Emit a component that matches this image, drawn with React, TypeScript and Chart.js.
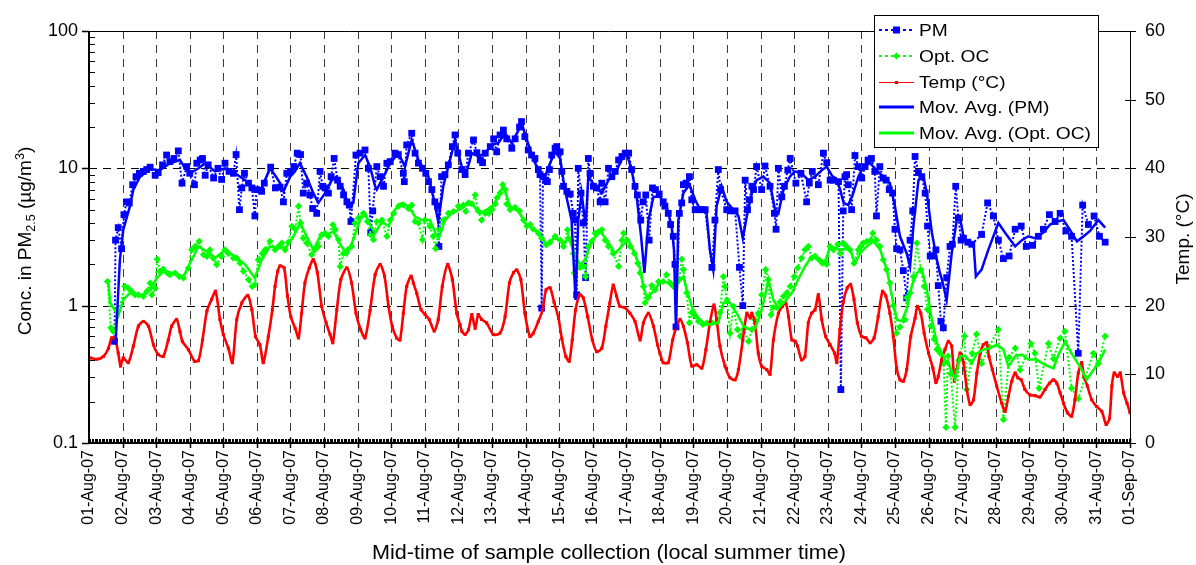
import React, { useEffect, useRef } from 'react';
import { Chart, registerables } from 'chart.js';

Chart.register(...registerables);

const FONT = '"Liberation Sans", Arial, Helvetica, sans-serif';

// ---------- tick labels ----------
const xTickLabels = [
  '01-Aug-07', '02-Aug-07', '03-Aug-07', '04-Aug-07', '05-Aug-07', '06-Aug-07', '07-Aug-07', '08-Aug-07',
  '09-Aug-07', '10-Aug-07', '11-Aug-07', '12-Aug-07', '13-Aug-07', '14-Aug-07', '15-Aug-07', '16-Aug-07',
  '17-Aug-07', '18-Aug-07', '19-Aug-07', '20-Aug-07', '21-Aug-07', '22-Aug-07', '23-Aug-07', '24-Aug-07',
  '25-Aug-07', '26-Aug-07', '27-Aug-07', '28-Aug-07', '29-Aug-07', '30-Aug-07', '31-Aug-07', '01-Sep-07',
];
const leftTickValues = [0.1, 1, 10, 100];
const leftTickLabels = ['0.1', '1', '10', '100'];
const rightTickValues = [0, 10, 20, 30, 40, 50, 60];

const legendLabels = ['PM', 'Opt. OC', 'Temp (°C)', 'Mov. Avg. (PM)', 'Mov. Avg. (Opt. OC)'];
const xTitle = 'Mid-time of sample collection (local summer time)';
const rightTitle = 'Temp. (°C)';

// ---------- data: [day since 01-Aug-07 00:00, value] ----------
const pmPoints: [number, number][] = [
  [0.76, 0.55], [0.79, 3.0], [0.87, 3.7], [0.97, 2.6], [1.04, 4.6], [1.12, 5.7], [1.2, 5.6], [1.3, 7.6], [1.4, 8.7], [1.5, 9.2],
  [1.62, 9.5], [1.72, 9.8], [1.82, 10.2], [1.97, 8.9], [2.06, 9.3], [2.19, 10.6], [2.31, 12.5], [2.41, 11.2], [2.53, 11.8], [2.66, 13.4],
  [2.77, 7.8], [2.91, 10.3], [3.0, 9.2], [3.14, 7.6], [3.21, 10.9], [3.31, 11.5], [3.38, 11.8], [3.46, 8.9], [3.55, 10.6], [3.71, 8.5],
  [3.84, 10.0], [3.95, 8.3], [4.05, 10.9], [4.17, 9.5], [4.3, 9.2], [4.38, 12.6], [4.48, 5.0], [4.55, 7.2], [4.63, 9.2], [4.75, 7.8],
  [4.85, 7.2], [4.94, 4.5], [4.99, 7.0], [5.14, 6.8], [5.22, 7.8], [5.41, 10.2], [5.55, 7.2], [5.69, 7.3], [5.79, 5.7], [5.89, 9.2],
  [6.0, 9.5], [6.1, 10.3], [6.2, 12.9], [6.3, 12.6], [6.38, 6.6], [6.48, 7.8], [6.58, 6.4], [6.66, 5.1], [6.78, 4.7], [6.88, 9.5],
  [6.96, 7.4], [7.03, 7.2], [7.13, 6.6], [7.21, 8.7], [7.3, 11.8], [7.4, 8.2], [7.48, 7.4], [7.58, 6.4], [7.68, 5.7], [7.75, 5.4],
  [7.8, 4.1], [7.95, 12.5], [8.07, 12.9], [8.22, 13.6], [8.32, 10.0], [8.39, 3.4], [8.45, 4.9], [8.57, 10.3], [8.67, 8.7], [8.77, 7.4],
  [8.87, 10.9], [8.97, 11.2], [9.11, 12.9], [9.21, 12.6], [9.36, 9.2], [9.39, 8.0], [9.46, 14.8], [9.61, 18.0], [9.71, 12.9], [9.81, 10.9],
  [9.93, 10.0], [10.03, 9.2], [10.11, 8.0], [10.21, 7.0], [10.3, 5.7], [10.38, 5.3], [10.42, 2.7], [10.5, 8.7], [10.6, 9.0], [10.7, 10.6],
  [10.82, 14.4], [10.9, 17.5], [10.98, 12.9], [11.1, 9.8], [11.2, 9.0], [11.3, 12.9], [11.45, 16.1], [11.55, 13.0], [11.65, 11.5], [11.72, 11.0],
  [11.8, 12.9], [11.95, 14.4], [12.05, 16.4], [12.14, 13.2], [12.24, 17.5], [12.34, 19.0], [12.44, 16.4], [12.59, 14.0], [12.69, 16.4], [12.82, 20.0],
  [12.88, 21.9], [12.98, 17.0], [13.08, 13.6], [13.18, 12.5], [13.28, 11.8], [13.38, 9.8], [13.43, 9.0], [13.48, 0.96], [13.52, 8.7], [13.6, 8.2],
  [13.65, 8.0], [13.71, 9.8], [13.78, 12.5], [13.88, 14.0], [13.93, 14.4], [14.03, 13.2], [14.08, 9.5], [14.13, 7.4], [14.23, 6.8], [14.33, 6.5],
  [14.42, 4.7], [14.47, 4.2], [14.52, 1.2], [14.57, 10.0], [14.65, 6.6], [14.72, 4.0], [14.79, 1.6], [14.87, 11.8], [14.92, 9.2], [15.02, 7.4],
  [15.12, 7.2], [15.22, 5.7], [15.27, 7.8], [15.37, 5.7], [15.47, 10.0], [15.57, 8.7], [15.67, 9.5], [15.77, 11.5], [15.87, 12.2], [15.97, 12.9],
  [16.07, 12.9], [16.16, 9.8], [16.26, 7.4], [16.33, 6.4], [16.43, 4.2], [16.5, 5.7], [16.58, 6.4], [16.68, 3.0], [16.78, 7.2], [16.87, 7.0],
  [16.98, 6.5], [17.1, 5.7], [17.15, 5.3], [17.25, 4.7], [17.32, 3.9], [17.4, 3.2], [17.45, 2.0], [17.48, 0.7], [17.58, 4.7], [17.65, 5.6],
  [17.7, 7.6], [17.78, 7.8], [17.88, 8.7], [17.95, 5.9], [18.05, 5.0], [18.15, 5.0], [18.25, 5.0], [18.35, 5.0], [18.55, 1.9], [18.64, 4.2],
  [18.74, 9.8], [18.81, 7.0], [18.99, 5.0], [19.09, 4.9], [19.24, 4.9], [19.37, 1.9], [19.47, 1.0], [19.54, 8.2], [19.61, 5.0], [19.67, 5.9],
  [19.74, 7.4], [19.79, 7.0], [19.88, 10.3], [20.03, 7.0], [20.13, 10.4], [20.28, 7.4], [20.41, 4.7], [20.46, 3.6], [20.53, 10.0], [20.63, 6.2],
  [20.71, 7.4], [20.81, 9.7], [20.88, 11.8], [21.05, 7.8], [21.2, 9.2], [21.37, 5.7], [21.45, 7.8], [21.54, 9.5], [21.72, 7.6], [21.87, 12.9],
  [21.97, 11.0], [22.07, 8.2], [22.17, 8.2], [22.32, 8.0], [22.39, 0.245], [22.46, 4.9], [22.51, 8.7], [22.56, 9.0], [22.61, 7.6], [22.71, 5.0],
  [22.81, 12.4], [22.91, 10.3], [23.01, 8.5], [23.11, 10.3], [23.2, 11.5], [23.3, 11.8], [23.4, 9.5], [23.45, 4.5], [23.55, 10.3], [23.65, 8.5],
  [23.74, 8.2], [23.83, 7.0], [23.93, 6.6], [24.0, 3.6], [24.05, 2.6], [24.15, 2.55], [24.25, 1.8], [24.35, 1.14], [24.45, 3.0], [24.53, 4.9],
  [24.6, 12.2], [24.7, 9.3], [24.8, 8.7], [24.9, 6.6], [24.97, 3.8], [25.05, 2.3], [25.15, 2.3], [25.22, 2.55], [25.29, 1.4], [25.37, 0.77],
  [25.44, 0.69], [25.54, 1.6], [25.64, 2.7], [25.71, 2.8], [25.81, 7.4], [25.89, 4.35], [25.97, 3.0], [26.04, 3.1], [26.17, 2.9], [26.29, 2.8],
  [26.58, 3.3], [26.76, 5.6], [26.93, 4.5], [27.08, 3.0], [27.23, 2.2], [27.4, 2.3], [27.58, 3.6], [27.76, 3.8], [27.91, 2.7], [28.1, 2.75],
  [28.27, 3.2], [28.42, 3.6], [28.6, 4.6], [28.77, 4.1], [28.92, 4.7], [29.09, 3.5], [29.26, 3.2], [29.46, 0.45], [29.59, 5.4], [29.76, 3.9],
  [29.93, 4.5], [30.09, 3.2], [30.26, 2.9],
];

const ocPoints: [number, number][] = [
  [0.55, 1.5], [0.65, 0.69], [0.72, 0.65], [1.07, 1.38], [1.17, 1.34], [1.27, 1.27], [1.37, 1.2], [1.47, 1.2], [1.62, 1.17], [1.72, 1.27],
  [1.82, 1.46], [1.87, 1.2], [1.97, 1.34], [2.03, 2.18], [2.11, 1.78], [2.21, 1.85], [2.33, 1.73], [2.41, 1.68], [2.56, 1.73], [2.69, 1.63],
  [2.81, 1.59], [2.96, 1.88], [3.06, 2.55], [3.16, 2.7], [3.28, 2.94], [3.41, 2.35], [3.51, 2.28], [3.6, 2.55], [3.7, 2.22], [3.8, 1.99],
  [3.95, 2.28], [4.05, 2.55], [4.15, 2.4], [4.3, 2.22], [4.4, 2.22], [4.5, 2.04], [4.6, 1.78], [4.75, 1.55], [4.86, 1.38], [4.94, 1.42],
  [5.04, 2.16], [5.16, 2.4], [5.24, 2.55], [5.39, 2.94], [5.54, 2.55], [5.64, 2.7], [5.74, 2.86], [5.84, 2.55], [5.94, 2.9], [6.04, 3.78],
  [6.14, 3.6], [6.24, 5.3], [6.3, 4.0], [6.38, 3.1], [6.48, 2.86], [6.63, 2.35], [6.73, 2.55], [6.83, 2.7], [6.93, 3.28], [7.03, 3.37],
  [7.13, 3.2], [7.26, 3.88], [7.33, 3.6], [7.43, 3.02], [7.48, 1.93], [7.58, 2.4], [7.7, 2.55], [7.82, 2.7], [7.92, 4.0], [8.02, 4.35],
  [8.17, 4.7], [8.29, 4.1], [8.39, 3.28], [8.47, 3.02], [8.57, 4.1], [8.72, 4.2], [8.87, 3.2], [8.97, 4.2], [9.07, 4.7], [9.22, 5.3],
  [9.37, 5.4], [9.51, 5.1], [9.61, 5.4], [9.71, 4.1], [9.81, 4.0], [9.93, 3.02], [10.0, 4.2], [10.15, 3.78], [10.25, 3.2], [10.32, 2.6],
  [10.42, 3.6], [10.55, 4.2], [10.7, 4.7], [10.85, 4.85], [11.0, 5.3], [11.15, 5.4], [11.22, 4.85], [11.3, 5.6], [11.4, 5.5], [11.5, 6.4],
  [11.59, 4.9], [11.69, 4.2], [11.8, 4.7], [11.9, 4.7], [12.0, 5.0], [12.1, 5.5], [12.15, 6.1], [12.24, 6.6], [12.32, 7.6], [12.39, 7.0],
  [12.44, 5.5], [12.54, 5.0], [12.69, 5.2], [12.82, 4.9], [12.94, 4.2], [13.04, 3.8], [13.14, 3.9], [13.23, 3.6], [13.38, 3.37], [13.48, 3.1],
  [13.61, 2.78], [13.73, 2.9], [13.88, 3.2], [14.03, 3.0], [14.13, 2.7], [14.25, 3.57], [14.35, 3.0], [14.42, 2.4], [14.45, 1.73], [14.52, 1.93],
  [14.62, 1.9], [14.72, 1.93], [14.79, 1.63], [14.87, 2.7], [14.97, 2.94], [15.07, 3.37], [15.17, 3.45], [15.27, 3.57], [15.37, 3.0], [15.47, 2.7],
  [15.61, 2.4], [15.77, 1.93], [15.87, 3.0], [15.92, 3.37], [16.02, 3.0], [16.12, 2.7], [16.24, 2.4], [16.34, 2.04], [16.41, 1.73], [16.51, 1.38],
  [16.56, 1.05], [16.66, 1.15], [16.76, 1.4], [16.86, 1.3], [16.96, 1.5], [17.1, 1.5], [17.2, 1.68], [17.3, 1.46], [17.4, 1.38], [17.5, 1.46],
  [17.58, 1.55], [17.65, 2.18], [17.7, 1.83], [17.8, 1.24], [17.88, 0.75], [17.95, 0.89], [18.05, 0.84], [18.15, 0.77], [18.28, 0.73], [18.4, 0.75],
  [18.55, 0.75], [18.69, 0.75], [18.79, 0.89], [18.89, 1.63], [18.94, 1.38], [19.0, 1.1], [19.09, 0.63], [19.19, 0.99], [19.31, 0.67], [19.39, 0.6],
  [19.49, 0.67], [19.64, 0.55], [19.74, 0.67], [19.83, 0.79], [19.93, 0.88], [20.03, 1.2], [20.15, 1.83], [20.23, 1.55], [20.31, 0.86], [20.38, 0.97],
  [20.48, 0.97], [20.58, 1.07], [20.68, 1.17], [20.78, 1.24], [20.88, 1.38], [21.0, 1.63], [21.1, 1.88], [21.22, 2.22], [21.32, 2.55], [21.42, 2.7],
  [21.52, 2.22], [21.62, 2.3], [21.74, 2.16], [21.84, 2.04], [21.97, 2.0], [22.07, 2.7], [22.17, 2.55], [22.3, 2.8], [22.37, 2.4], [22.46, 2.86],
  [22.56, 2.7], [22.66, 2.55], [22.78, 2.04], [22.91, 2.55], [22.98, 2.7], [23.06, 2.86], [23.16, 2.94], [23.28, 3.0], [23.34, 3.37], [23.45, 3.0],
  [23.55, 2.7], [23.65, 2.16], [23.75, 1.83], [23.85, 1.46], [23.95, 1.0], [24.05, 0.63], [24.15, 0.7], [24.3, 0.79], [24.35, 1.14], [24.45, 1.24],
  [24.55, 1.63], [24.65, 2.86], [24.77, 1.83], [24.87, 1.38], [24.97, 0.94], [25.07, 0.71], [25.17, 0.57], [25.25, 0.48], [25.35, 0.45], [25.45, 0.38],
  [25.52, 0.13], [25.58, 0.43], [25.66, 0.32], [25.79, 0.13], [25.9, 0.4], [26.07, 0.6], [26.14, 0.245], [26.3, 0.45], [26.43, 0.62], [26.58, 0.38],
  [26.8, 0.5], [27.08, 0.67], [27.23, 0.148], [27.4, 0.42], [27.58, 0.49], [27.73, 0.34], [28.05, 0.53], [28.17, 0.45], [28.29, 0.25], [28.57, 0.53],
  [28.72, 0.41], [28.92, 0.58], [29.06, 0.65], [29.26, 0.25], [29.46, 0.21], [29.66, 0.3], [29.91, 0.45], [30.06, 0.38], [30.26, 0.6],
];

const tempPoints: [number, number][] = [
  [0.03, 12.4], [0.23, 12.2], [0.43, 12.6], [0.58, 13.8], [0.67, 15.3], [0.77, 15.3], [0.87, 13.1], [0.94, 11.2], [1.02, 12.4], [1.17, 11.7],
  [1.32, 14.1], [1.47, 17.0], [1.62, 17.7], [1.77, 17.0], [1.92, 14.3], [2.06, 12.9], [2.21, 12.6], [2.36, 15.0], [2.46, 17.0], [2.61, 18.0],
  [2.71, 16.2], [2.78, 14.8], [2.96, 13.6], [3.14, 11.9], [3.26, 12.0], [3.38, 15.0], [3.51, 19.2], [3.65, 20.9], [3.77, 22.1], [3.9, 18.0],
  [4.0, 15.8], [4.15, 13.8], [4.27, 11.7], [4.4, 18.0], [4.55, 20.4], [4.73, 21.5], [4.85, 19.4], [4.96, 15.5], [5.09, 14.3], [5.19, 11.7],
  [5.34, 15.5], [5.46, 19.4], [5.54, 22.8], [5.62, 25.0], [5.69, 25.8], [5.81, 25.5], [5.91, 21.4], [6.01, 18.4], [6.14, 16.7], [6.24, 15.3],
  [6.33, 18.9], [6.43, 23.3], [6.56, 25.5], [6.68, 26.7], [6.8, 24.8], [6.93, 19.9], [7.06, 17.5], [7.18, 15.8], [7.26, 14.6], [7.38, 19.4],
  [7.5, 23.8], [7.68, 25.5], [7.82, 23.3], [7.95, 18.9], [8.09, 16.5], [8.22, 15.3], [8.37, 19.3], [8.52, 24.5], [8.67, 26.0], [8.8, 24.3],
  [8.92, 19.9], [9.03, 17.0], [9.16, 15.3], [9.26, 15.0], [9.36, 18.9], [9.46, 22.8], [9.59, 24.3], [9.66, 23.3], [9.76, 21.8], [9.89, 19.4],
  [10.01, 18.7], [10.13, 18.0], [10.28, 16.3], [10.4, 18.0], [10.52, 22.8], [10.68, 26.0], [10.82, 23.8], [10.95, 18.9], [11.05, 17.2], [11.1, 16.3],
  [11.2, 15.8], [11.3, 16.5], [11.4, 18.7], [11.5, 16.7], [11.59, 18.7], [11.69, 18.0], [11.84, 17.5], [12.04, 15.8], [12.24, 16.0], [12.39, 18.4],
  [12.52, 23.3], [12.64, 24.8], [12.74, 25.2], [12.86, 23.8], [12.98, 18.9], [13.13, 15.5], [13.23, 16.0], [13.38, 17.7], [13.51, 19.4], [13.61, 22.3],
  [13.73, 22.6], [13.85, 20.5], [13.98, 18.2], [14.08, 15.2], [14.2, 12.6], [14.3, 11.9], [14.39, 15.0], [14.49, 19.4], [14.62, 21.6], [14.72, 21.1],
  [14.85, 18.4], [14.99, 15.0], [15.12, 13.3], [15.27, 13.8], [15.39, 17.0], [15.51, 20.4], [15.61, 23.0], [15.71, 21.4], [15.81, 19.9], [15.96, 19.7],
  [16.11, 18.9], [16.26, 17.7], [16.41, 15.0], [16.51, 17.5], [16.66, 18.9], [16.81, 17.0], [16.93, 14.3], [17.0, 13.1], [17.1, 11.7], [17.25, 11.7],
  [17.38, 15.0], [17.5, 17.0], [17.6, 18.0], [17.7, 17.0], [17.82, 14.6], [17.95, 11.2], [18.1, 11.4], [18.25, 10.9], [18.37, 13.6], [18.49, 17.5],
  [18.61, 20.1], [18.69, 18.0], [18.79, 14.1], [18.94, 11.2], [19.09, 9.5], [19.24, 9.2], [19.34, 10.7], [19.47, 15.0], [19.59, 18.9], [19.69, 18.2],
  [19.74, 18.9], [19.83, 17.5], [19.93, 13.1], [20.03, 11.2], [20.18, 10.7], [20.28, 10.0], [20.38, 15.0], [20.53, 18.9], [20.65, 19.9], [20.75, 20.4],
  [20.83, 18.4], [20.93, 15.0], [21.03, 14.8], [21.1, 14.1], [21.22, 12.1], [21.32, 12.6], [21.42, 17.5], [21.52, 18.9], [21.62, 19.4], [21.72, 21.6],
  [21.82, 18.0], [21.94, 15.5], [22.07, 14.3], [22.2, 13.1], [22.27, 11.7], [22.36, 16.5], [22.46, 20.5], [22.58, 22.6], [22.68, 23.1], [22.78, 20.9],
  [22.88, 17.5], [23.01, 15.5], [23.14, 15.3], [23.26, 14.6], [23.38, 15.3], [23.5, 18.4], [23.63, 22.1], [23.73, 21.4], [23.85, 18.9], [23.95, 15.5],
  [24.05, 10.9], [24.15, 9.2], [24.25, 9.0], [24.35, 10.7], [24.47, 15.5], [24.6, 18.2], [24.67, 19.9], [24.77, 18.9], [24.87, 16.0], [25.0, 13.1],
  [25.13, 10.9], [25.22, 8.8], [25.29, 9.7], [25.39, 12.1], [25.49, 13.6], [25.59, 14.8], [25.69, 14.1], [25.77, 9.0], [25.84, 10.7], [25.94, 13.1],
  [26.04, 11.7], [26.14, 7.8], [26.24, 5.6], [26.34, 6.3], [26.44, 10.2], [26.54, 13.1], [26.63, 14.3], [26.73, 14.6], [26.8, 12.6], [26.9, 10.7],
  [27.03, 8.3], [27.18, 5.8], [27.28, 4.6], [27.38, 6.8], [27.48, 9.0], [27.58, 10.2], [27.66, 9.5], [27.76, 9.2], [27.87, 7.8], [28.02, 7.0],
  [28.17, 6.9], [28.32, 6.7], [28.47, 7.8], [28.6, 8.7], [28.72, 9.2], [28.82, 8.7], [28.92, 7.3], [29.02, 5.8], [29.14, 4.4], [29.26, 3.9],
  [29.36, 6.3], [29.46, 10.2], [29.56, 11.7], [29.63, 9.7], [29.73, 8.3], [29.86, 6.3], [30.01, 5.3], [30.16, 4.6], [30.29, 2.7], [30.39, 3.6],
  [30.46, 8.3], [30.53, 10.2], [30.63, 9.7], [30.71, 10.2], [30.81, 7.3], [30.91, 5.8], [31.0, 4.4],
];

const pmAvgPoints: [number, number][] = [
  [0.79, 0.52], [0.92, 2.16], [1.02, 3.57], [1.22, 5.3], [1.32, 7.0], [1.52, 8.7], [1.82, 9.9], [2.11, 9.7], [2.41, 10.9], [2.71, 11.5],
  [2.86, 10.0], [3.01, 9.2], [3.26, 10.0], [3.46, 10.9], [3.75, 9.5], [4.05, 10.0], [4.35, 9.2], [4.65, 8.2], [4.94, 7.0], [5.14, 7.2],
  [5.39, 10.0], [5.54, 8.9], [5.69, 7.8], [5.79, 6.8], [5.99, 8.7], [6.13, 9.5], [6.28, 10.9], [6.48, 8.7], [6.68, 6.6], [6.83, 5.6],
  [7.03, 6.6], [7.23, 8.2], [7.38, 8.7], [7.58, 7.0], [7.72, 5.3], [7.87, 5.6], [8.02, 10.9], [8.22, 12.5], [8.37, 10.3], [8.52, 7.4],
  [8.57, 7.0], [8.77, 8.7], [8.97, 10.9], [9.21, 12.9], [9.41, 10.3], [9.61, 16.1], [9.81, 11.5], [10.11, 8.7], [10.25, 6.2], [10.4, 4.1],
  [10.55, 7.4], [10.75, 11.5], [10.9, 16.1], [11.1, 10.3], [11.25, 9.5], [11.4, 12.9], [11.6, 12.2], [11.8, 12.9], [11.99, 14.8], [12.19, 15.3],
  [12.39, 18.0], [12.59, 15.3], [12.79, 19.0], [12.89, 21.2], [13.04, 16.1], [13.24, 11.5], [13.43, 9.2], [13.58, 8.7], [13.73, 10.9], [13.88, 13.2],
  [14.03, 11.8], [14.17, 7.0], [14.37, 4.2], [14.49, 1.1], [14.57, 4.2], [14.67, 6.6], [14.79, 3.8], [14.87, 8.7], [15.07, 7.4], [15.27, 6.6],
  [15.47, 8.2], [15.67, 9.2], [15.86, 11.5], [16.01, 12.9], [16.16, 9.7], [16.31, 6.2], [16.44, 3.2], [16.54, 1.73], [16.66, 4.2], [16.81, 6.2],
  [17.0, 6.2], [17.2, 5.3], [17.35, 3.8], [17.42, 2.55], [17.48, 0.67], [17.55, 4.2], [17.7, 6.6], [17.88, 7.6], [18.05, 5.9], [18.2, 5.0],
  [18.39, 4.7], [18.49, 2.55], [18.59, 1.83], [18.69, 5.3], [18.84, 7.4], [18.99, 5.7], [19.19, 5.0], [19.34, 4.5], [19.47, 3.1], [19.59, 4.5],
  [19.74, 6.6], [19.88, 8.2], [20.08, 8.7], [20.28, 7.8], [20.43, 5.0], [20.53, 4.7], [20.68, 7.0], [20.87, 8.7], [21.02, 9.5], [21.22, 9.2],
  [21.42, 8.2], [21.62, 8.7], [21.82, 9.7], [21.97, 10.3], [22.12, 8.9], [22.27, 8.2], [22.37, 7.0], [22.47, 5.6], [22.61, 5.4], [22.76, 6.6],
  [22.91, 8.7], [23.06, 10.3], [23.26, 10.9], [23.45, 9.7], [23.65, 8.7], [23.85, 7.8], [24.0, 5.3], [24.15, 3.2], [24.35, 2.4], [24.45, 1.93],
  [24.55, 3.8], [24.7, 8.2], [24.85, 8.7], [24.95, 6.6], [25.1, 3.4], [25.25, 2.16], [25.34, 1.73], [25.4, 1.55], [25.54, 1.1], [25.69, 2.4],
  [25.84, 4.2], [25.94, 4.35], [26.04, 3.2], [26.19, 2.8], [26.34, 2.86], [26.41, 1.63], [26.58, 1.83], [26.78, 2.55], [27.08, 4.0], [27.28, 3.4],
  [27.58, 2.7], [27.78, 3.0], [27.97, 3.2], [28.17, 3.1], [28.42, 3.4], [28.62, 3.9], [28.82, 4.1], [29.02, 4.2], [29.17, 3.7], [29.42, 2.94],
  [29.62, 3.2], [29.81, 3.5], [30.06, 4.2], [30.26, 3.7],
];

const ocAvgPoints: [number, number][] = [
  [0.58, 1.46], [0.63, 1.05], [0.87, 0.84], [1.02, 1.1], [1.22, 1.24], [1.52, 1.17], [1.82, 1.31], [2.02, 1.59], [2.21, 1.78], [2.51, 1.73],
  [2.81, 1.63], [3.06, 2.16], [3.26, 2.7], [3.51, 2.48], [3.75, 2.22], [4.05, 2.55], [4.35, 2.28], [4.65, 1.99], [4.94, 1.59], [5.14, 2.16],
  [5.39, 2.7], [5.69, 2.63], [5.89, 2.7], [6.09, 3.2], [6.29, 4.0], [6.48, 3.2], [6.68, 2.55], [6.88, 3.2], [7.08, 3.28], [7.28, 3.47],
  [7.43, 2.94], [7.68, 2.35], [7.87, 3.02], [8.07, 4.2], [8.22, 4.7], [8.37, 3.88], [8.52, 3.37], [8.72, 4.1], [8.92, 3.78], [9.11, 5.0],
  [9.31, 5.6], [9.51, 5.3], [9.71, 4.45], [9.91, 4.2], [10.15, 4.2], [10.32, 3.37], [10.42, 3.1], [10.6, 4.2], [10.8, 4.7], [11.1, 5.1],
  [11.35, 5.7], [11.64, 4.7], [11.84, 5.0], [12.04, 5.4], [12.24, 6.6], [12.34, 7.4], [12.54, 5.3], [12.79, 4.85], [13.03, 3.88], [13.28, 3.57],
  [13.53, 3.02], [13.63, 2.7], [13.83, 3.1], [14.03, 3.02], [14.18, 2.86], [14.27, 3.2], [14.47, 2.35], [14.62, 1.99], [14.77, 2.16], [14.97, 2.94],
  [15.22, 3.47], [15.42, 3.02], [15.66, 2.4], [15.86, 2.7], [16.06, 3.02], [16.26, 2.4], [16.41, 1.88], [16.51, 1.38], [16.61, 1.14], [16.76, 1.24],
  [17.0, 1.46], [17.1, 1.5], [17.3, 1.46], [17.5, 1.46], [17.7, 1.63], [17.8, 1.31], [17.95, 0.99], [18.1, 0.84], [18.3, 0.75], [18.49, 0.73],
  [18.74, 0.75], [18.89, 1.05], [19.09, 1.05], [19.29, 0.88], [19.49, 0.71], [19.69, 0.67], [19.83, 0.68], [20.0, 0.88], [20.13, 1.17], [20.23, 1.55],
  [20.38, 1.1], [20.53, 0.96], [20.73, 1.08], [20.93, 1.24], [21.12, 1.55], [21.32, 1.93], [21.52, 2.28], [21.72, 2.16], [21.92, 2.1], [22.07, 2.7],
  [22.22, 2.63], [22.42, 2.55], [22.66, 2.6], [22.81, 2.04], [22.96, 2.4], [23.16, 2.7], [23.36, 2.94], [23.56, 2.55], [23.76, 1.83], [23.91, 1.17],
  [24.06, 0.79], [24.2, 0.77], [24.35, 0.94], [24.5, 1.38], [24.65, 1.73], [24.8, 1.83], [24.95, 1.31], [25.1, 0.79], [25.25, 0.535], [25.4, 0.45],
  [25.49, 0.405], [25.64, 0.36], [25.79, 0.29], [25.94, 0.43], [26.09, 0.43], [26.29, 0.38], [26.44, 0.45], [26.64, 0.48], [26.83, 0.49], [27.03, 0.52],
  [27.23, 0.48], [27.38, 0.36], [27.58, 0.43], [27.78, 0.44], [27.97, 0.405], [28.22, 0.405], [28.47, 0.37], [28.72, 0.35], [28.87, 0.44], [29.07, 0.55],
  [29.26, 0.45], [29.51, 0.36], [29.71, 0.29], [29.91, 0.34], [30.11, 0.405], [30.26, 0.48],
];

const BLUE = '#0000ff';
const GREEN = '#00ff00';
const RED = '#ff0000';

const toXY = (pts: [number, number][]) => pts.map(([x, y]) => ({ x, y }));

function drawStretched(ctx: CanvasRenderingContext2D, text: string, x: number, y: number, size: number, sx: number, align: CanvasTextAlign) {
  ctx.save();
  ctx.font = `${size}px ${FONT}`;
  ctx.translate(x, y);
  ctx.scale(sx, 1);
  ctx.textAlign = align;
  ctx.textBaseline = 'middle';
  ctx.fillStyle = '#000';
  ctx.fillText(text, 0, 0);
  ctx.restore();
}

const decorPlugin = {
  id: 'decor',
  beforeDatasetsDraw(chart: any) {
    const { ctx, chartArea: a, scales } = chart;
    const xs = scales.x;
    const ys = scales.y;
    ctx.save();
    ctx.lineWidth = 1;
    ctx.setLineDash([8, 6]);
    ctx.strokeStyle = '#3c3c3c';
    for (let d = 1; d < xTickLabels.length - 1; d++) {
      const px = Math.round(xs.getPixelForValue(d)) + 0.5;
      ctx.beginPath();
      ctx.moveTo(px, a.top);
      ctx.lineTo(px, a.bottom);
      ctx.stroke();
    }
    ctx.strokeStyle = '#000';
    for (const v of [1, 10]) {
      const py = Math.round(ys.getPixelForValue(v)) + 0.5;
      ctx.beginPath();
      ctx.moveTo(a.left, py);
      ctx.lineTo(a.right, py);
      ctx.stroke();
    }
    ctx.restore();
  },
  afterDraw(chart: any) {
    const { ctx, chartArea: a, scales } = chart;
    const xs = scales.x;
    const ys = scales.y;
    const yr = scales.y1;
    ctx.save();
    ctx.setLineDash([]);
    ctx.strokeStyle = '#000';

    // frame
    ctx.lineWidth = 1;
    ctx.beginPath();
    ctx.moveTo(a.left, a.top + 0.5);
    ctx.lineTo(a.right, a.top + 0.5);
    ctx.moveTo(a.right + 0.5, a.top);
    ctx.lineTo(a.right + 0.5, a.bottom);
    ctx.stroke();
    ctx.lineWidth = 2;
    ctx.beginPath();
    ctx.moveTo(a.left, a.top);
    ctx.lineTo(a.left, a.bottom + 1);
    ctx.moveTo(a.left - 1, a.bottom);
    ctx.lineTo(a.right + 1, a.bottom);
    ctx.stroke();

    // x ticks (hourly minor, daily major)
    ctx.lineWidth = 1;
    ctx.beginPath();
    const days = xTickLabels.length - 1;
    for (let h = 1; h < days * 24; h++) {
      if (h % 24 === 0) continue;
      const px = Math.round(xs.getPixelForValue(h / 24)) + 0.5;
      ctx.moveTo(px, a.bottom - 4);
      ctx.lineTo(px, a.bottom);
    }
    ctx.stroke();
    ctx.lineWidth = 1.5;
    ctx.beginPath();
    for (let d = 1; d <= days; d++) {
      const px = Math.round(xs.getPixelForValue(d)) + 0.5;
      ctx.moveTo(px, a.bottom - 5);
      ctx.lineTo(px, a.bottom + 5);
    }
    ctx.stroke();

    // left log ticks
    ctx.lineWidth = 1;
    ctx.beginPath();
    for (const dec of [0.1, 1, 10]) {
      for (let m = 2; m <= 9; m++) {
        const py = Math.round(ys.getPixelForValue(dec * m)) + 0.5;
        ctx.moveTo(a.left, py);
        ctx.lineTo(a.left + 6, py);
      }
    }
    ctx.stroke();
    ctx.lineWidth = 1.5;
    ctx.beginPath();
    for (const v of leftTickValues) {
      const py = Math.round(ys.getPixelForValue(v)) + 0.5;
      ctx.moveTo(a.left - 7, py);
      ctx.lineTo(a.left, py);
    }
    ctx.stroke();

    // right ticks
    ctx.lineWidth = 1;
    ctx.beginPath();
    for (const v of rightTickValues) {
      const py = Math.round(yr.getPixelForValue(v)) + 0.5;
      ctx.moveTo(a.right - 5, py);
      ctx.lineTo(a.right + 6, py);
    }
    ctx.stroke();

    // legend box
    const lx = 874, ly = 15, lw = 224, lh = 132;
    ctx.fillStyle = '#fff';
    ctx.fillRect(lx, ly, lw, lh);
    ctx.lineWidth = 1;
    ctx.strokeRect(lx + 0.5, ly + 0.5, lw, lh);
    const rowY = [30, 56, 82, 107, 133];
    const s0 = 879, s1 = 914, sm = 896.5;
    // PM
    ctx.strokeStyle = BLUE; ctx.fillStyle = BLUE;
    ctx.lineWidth = 2; ctx.setLineDash([3, 3]);
    ctx.beginPath(); ctx.moveTo(s0, rowY[0]); ctx.lineTo(s1, rowY[0]); ctx.stroke();
    ctx.setLineDash([]);
    ctx.fillRect(sm - 3.5, rowY[0] - 3.5, 7, 7);
    // OC
    ctx.strokeStyle = GREEN; ctx.fillStyle = GREEN;
    ctx.setLineDash([3, 3]);
    ctx.beginPath(); ctx.moveTo(s0, rowY[1]); ctx.lineTo(s1, rowY[1]); ctx.stroke();
    ctx.setLineDash([]);
    ctx.beginPath();
    ctx.moveTo(sm - 3.5, rowY[1]); ctx.lineTo(sm, rowY[1] - 3.5); ctx.lineTo(sm + 3.5, rowY[1]); ctx.lineTo(sm, rowY[1] + 3.5);
    ctx.closePath(); ctx.fill();
    // Temp
    ctx.strokeStyle = RED; ctx.fillStyle = RED; ctx.lineWidth = 1;
    ctx.beginPath(); ctx.moveTo(s0, rowY[2] + 0.5); ctx.lineTo(s1, rowY[2] + 0.5); ctx.stroke();
    ctx.fillRect(sm - 1.5, rowY[2] - 1, 3, 3);
    // Mov avg lines
    ctx.lineWidth = 3;
    ctx.strokeStyle = BLUE;
    ctx.beginPath(); ctx.moveTo(s0, rowY[3]); ctx.lineTo(s1, rowY[3]); ctx.stroke();
    ctx.strokeStyle = GREEN;
    ctx.beginPath(); ctx.moveTo(s0, rowY[4]); ctx.lineTo(s1, rowY[4]); ctx.stroke();

    // legend text (stretched to match reference width)
    ctx.font = `17px ${FONT}`;
    const longest = ctx.measureText(legendLabels[4]).width;
    const lsx = 172 / longest;
    legendLabels.forEach((t, i) => drawStretched(ctx, t, 919, rowY[i] + 1, 17, lsx, 'left'));

    // x title
    ctx.font = `20px ${FONT}`;
    const xtw = ctx.measureText(xTitle).width;
    drawStretched(ctx, xTitle, 609, 553, 20, 474 / xtw, 'center');

    // left title with sub/superscript
    ctx.save();
    ctx.translate(24, 241);
    ctx.rotate(-Math.PI / 2);
    ctx.fillStyle = '#000';
    ctx.textBaseline = 'alphabetic';
    ctx.textAlign = 'left';
    const f = 19;
    const parts = [
      { t: 'Conc. in PM', s: f, dy: 0 },
      { t: '2.5', s: f * 0.66, dy: 4 },
      { t: ' (µg/m', s: f, dy: 0 },
      { t: '3', s: f * 0.66, dy: -7 },
      { t: ')', s: f, dy: 0 },
    ];
    let total = 0;
    for (const p of parts) { ctx.font = `${p.s}px ${FONT}`; total += ctx.measureText(p.t).width; }
    let cx = -total / 2;
    for (const p of parts) {
      ctx.font = `${p.s}px ${FONT}`;
      ctx.fillText(p.t, cx, 7 + p.dy);
      cx += ctx.measureText(p.t).width;
    }
    ctx.restore();

    // right title
    ctx.save();
    ctx.translate(1184, 239);
    ctx.rotate(-Math.PI / 2);
    ctx.font = `19px ${FONT}`;
    ctx.fillStyle = '#000';
    ctx.textAlign = 'center';
    ctx.textBaseline = 'middle';
    ctx.fillText(rightTitle, 0, 0);
    ctx.restore();

    ctx.restore();
  },
};

export default function App() {
  const ref = useRef<HTMLCanvasElement>(null);
  useEffect(() => {
    if (!ref.current) return;
    Chart.defaults.font.family = FONT;
    const chart = new Chart(ref.current, {
      type: 'line',
      data: {
        datasets: [
          {
            label: 'Mov. Avg. (PM)', data: toXY(pmAvgPoints), yAxisID: 'y', borderColor: BLUE, borderWidth: 2.5,
            pointRadius: 0, tension: 0, order: 0,
          },
          {
            label: 'Mov. Avg. (Opt. OC)', data: toXY(ocAvgPoints), yAxisID: 'y', borderColor: GREEN, borderWidth: 2.5,
            pointRadius: 0, tension: 0, order: 1,
          },
          {
            label: 'Temp (°C)', data: toXY(tempPoints), yAxisID: 'y1', borderColor: RED, borderWidth: 2.6,
            pointStyle: 'rect', pointRadius: 2.2, pointBackgroundColor: RED, pointBorderColor: RED, pointBorderWidth: 0,
            tension: 0.25, order: 2,
          },
          {
            label: 'Opt. OC', data: toXY(ocPoints), yAxisID: 'y', borderColor: GREEN, borderWidth: 2, borderDash: [2, 2],
            pointStyle: 'rectRot', pointRadius: 3.6, pointBackgroundColor: GREEN, pointBorderColor: GREEN, pointBorderWidth: 0,
            tension: 0, order: 3,
          },
          {
            label: 'PM', data: toXY(pmPoints), yAxisID: 'y', borderColor: BLUE, borderWidth: 2, borderDash: [2, 2],
            pointStyle: 'rect', pointRadius: 4.8, pointBackgroundColor: BLUE, pointBorderColor: BLUE, pointBorderWidth: 0,
            tension: 0, order: 4,
          },
        ],
      },
      options: {
        responsive: false,
        animation: false,
        devicePixelRatio: 1,
        layout: { padding: { top: 31, left: 0, right: 0, bottom: 0 } },
        plugins: { legend: { display: false }, tooltip: { enabled: false }, title: { display: false } },
        scales: {
          x: {
            type: 'linear', min: 0, max: xTickLabels.length - 1,
            afterBuildTicks: (s: any) => { s.ticks = xTickLabels.map((_, i) => ({ value: i })); },
            afterFit: (s: any) => { s.height = 122; },
            ticks: {
              autoSkip: false, minRotation: 90, maxRotation: 90, padding: 7, color: '#000',
              font: { family: FONT, size: 16 },
              callback: (v: any) => xTickLabels[Math.round(Number(v))] ?? '',
            },
            grid: { display: false, drawTicks: false },
            border: { display: false },
          },
          y: {
            type: 'logarithmic', position: 'left', min: 0.1, max: 100,
            afterBuildTicks: (s: any) => { s.ticks = leftTickValues.map((v) => ({ value: v })); },
            afterFit: (s: any) => { s.width = 89; },
            ticks: {
              padding: 11, color: '#000', font: { family: FONT, size: 18 },
              callback: (v: any) => {
                const i = leftTickValues.findIndex((t) => Math.abs(t - Number(v)) < 1e-9);
                return i >= 0 ? leftTickLabels[i] : '';
              },
            },
            grid: { display: false, drawTicks: false },
            border: { display: false },
          },
          y1: {
            type: 'linear', position: 'right', min: 0, max: 60,
            afterBuildTicks: (s: any) => { s.ticks = rightTickValues.map((v) => ({ value: v })); },
            afterFit: (s: any) => { s.width = 66; },
            ticks: { padding: 15, color: '#000', font: { family: FONT, size: 18 }, callback: (v: any) => String(v) },
            grid: { display: false, drawTicks: false },
            border: { display: false },
          },
        },
      },
      plugins: [decorPlugin],
    } as any);
    return () => chart.destroy();
  }, []);
  return (
    <div style={{ position: 'absolute', left: 0, top: 0, width: 1196, height: 565, background: '#fff' }}>
      <canvas ref={ref} width={1196} height={565} style={{ display: 'block', width: 1196, height: 565 }} />
    </div>
  );
}
